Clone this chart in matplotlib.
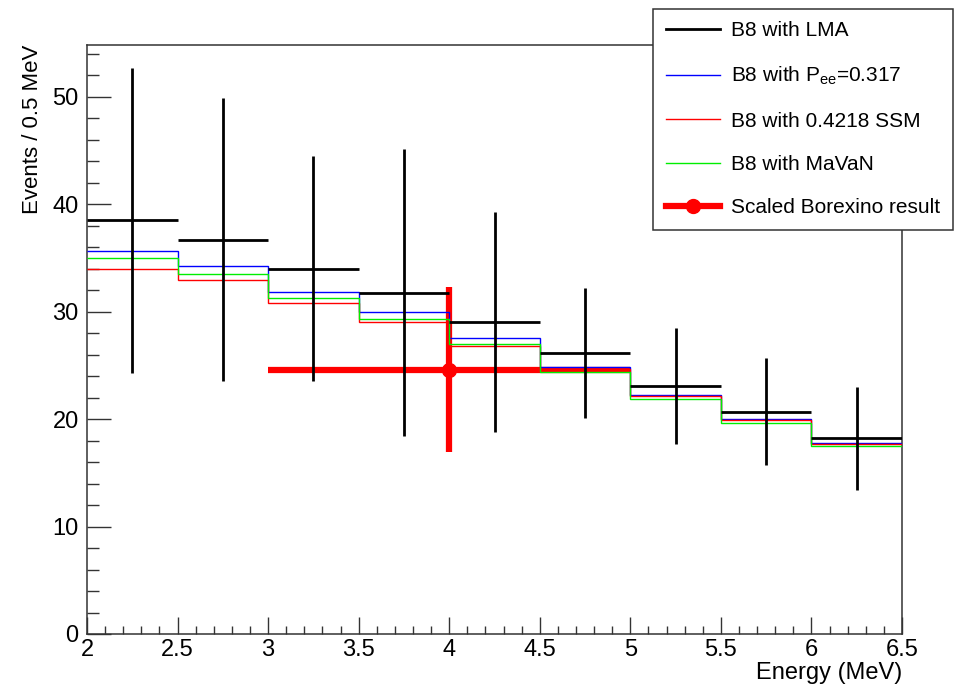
import numpy as np
import matplotlib
matplotlib.use("Agg")
import matplotlib.pyplot as plt
from matplotlib.ticker import MultipleLocator

plt.rcParams["font.family"] = ["Liberation Sans", "DejaVu Sans"]
plt.rcParams["mathtext.fontset"] = "custom"
plt.rcParams["mathtext.rm"] = "Liberation Sans"
plt.rcParams["mathtext.it"] = "Liberation Sans"

# bin edges (MeV) and bin contents
edges = [2.0, 2.5, 3.0, 3.5, 4.0, 4.5, 5.0, 5.5, 6.0, 6.5]
lma = [38.5, 36.7, 34.0, 31.75, 29.0, 26.15, 23.1, 20.7, 18.2]
lma_err = [14.2, 13.2, 10.5, 13.35, 10.25, 6.05, 5.4, 5.0, 4.8]
pee = [35.65, 34.2, 31.85, 29.95, 27.5, 24.85, 22.25, 20.0, 17.8]
ssm = [34.0, 32.9, 30.8, 29.0, 26.75, 24.65, 22.1, 19.9, 17.65]
mavan = [34.95, 33.5, 31.25, 29.35, 26.95, 24.4, 21.9, 19.65, 17.5]

# scaled Borexino point
bx_x, bx_xerr = 4.0, 1.0
bx_y, bx_yerr = 24.6, 7.7

edges = np.array(edges)
centers = 0.5 * (edges[:-1] + edges[1:])
halfw = 0.5 * np.diff(edges)

fig = plt.figure(figsize=(9.55, 6.85), dpi=100)
ax = fig.add_axes([87/955, 1 - 634/685, (902 - 87)/955, (634 - 45)/685])

# Borexino first, so the rest is drawn over it
ax.errorbar([bx_x], [bx_y], xerr=[bx_xerr], yerr=[bx_yerr], fmt="o", color="red",
            ms=10, lw=4.5, capsize=0, zorder=2)

ax.stairs(pee, edges, color="blue", lw=1.0, baseline=None, zorder=3)
ax.stairs(ssm, edges, color="red", lw=1.0, baseline=None, zorder=3)
ax.stairs(mavan, edges, color="#00ee00", lw=1.0, baseline=None, zorder=3)

ax.errorbar(centers, lma, xerr=halfw, yerr=lma_err, fmt="none", ecolor="black",
            elinewidth=2.0, capsize=0, zorder=4)

ax.set_xlim(2, 6.5)
ax.set_ylim(0, 54.8)
ax.xaxis.set_major_locator(MultipleLocator(0.5))
ax.xaxis.set_minor_locator(MultipleLocator(0.1))
ax.yaxis.set_major_locator(MultipleLocator(10))
ax.yaxis.set_minor_locator(MultipleLocator(2))
ax.xaxis.set_major_formatter(matplotlib.ticker.FuncFormatter(lambda v, p: f"{v:g}"))
ax.tick_params(axis="both", which="both", direction="in", top=False, right=False,
               labelsize=17, width=1.0, color="#333333")
ax.tick_params(axis="y", which="major", length=17, pad=6)
ax.tick_params(axis="y", which="minor", length=8.5)
ax.tick_params(axis="x", which="major", length=12, pad=3.5)
ax.tick_params(axis="x", which="minor", length=6)
for s in ax.spines.values():
    s.set_linewidth(1.1)
    s.set_color("#333333")

fig.text(33/955, 1 - 45/685, "Events / 0.5 MeV", rotation=90, ha="center", va="top",
         fontsize=16)
fig.text(902/955, 1 - 684/685, "Energy (MeV)", ha="right", va="bottom", fontsize=17)

# legend
handles = [
    plt.Line2D([], [], color="black", lw=2.0),
    plt.Line2D([], [], color="blue", lw=1.0),
    plt.Line2D([], [], color="red", lw=1.0),
    plt.Line2D([], [], color="#00ee00", lw=1.0),
    plt.Line2D([], [], color="red", lw=4.5, marker="o", ms=10),
]
labels = ["B8 with LMA", "B8 with P$_{ee}$=0.317", "B8 with 0.4218 SSM",
          "B8 with MaVaN", "Scaled Borexino result"]
leg = fig.legend(handles, labels, loc="upper right",
                 bbox_to_anchor=(953/955, 1 - 9/685), bbox_transform=fig.transFigure,
                 borderaxespad=0, fontsize=15, fancybox=False, shadow=False,
                 frameon=True, handlelength=2.6, handletextpad=0.55,
                 labelspacing=1.17, borderpad=0.6)
leg.get_frame().set_edgecolor("#333333")
leg.get_frame().set_linewidth(1.1)
leg.get_frame().set_alpha(1.0)

fig.savefig("out.png", dpi=100)
